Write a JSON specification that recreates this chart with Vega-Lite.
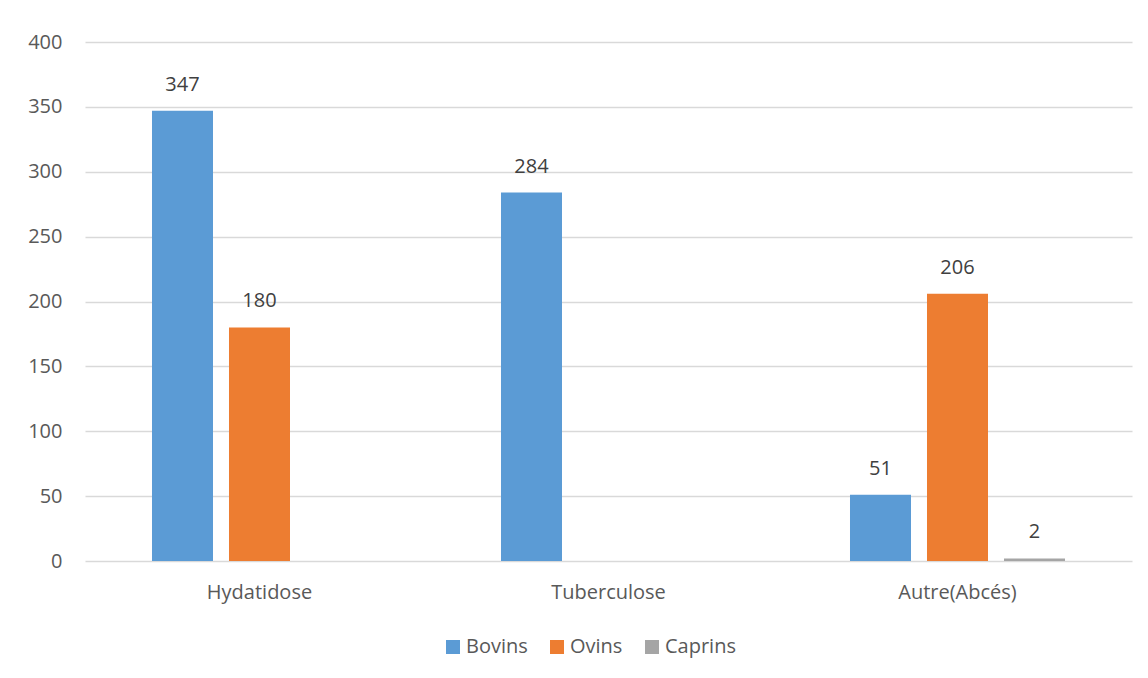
{
  "$schema": "https://vega.github.io/schema/vega-lite/v6.json",
  "width": 1047,
  "height": 519,
  "autosize": {"type": "none"},
  "padding": {"left": 85, "top": 42, "right": 16, "bottom": 117},
  "background": "#ffffff",
  "config": {
    "font": "Open Sans",
    "view": {"stroke": null},
    "axis": {"labelColor": "#595959", "labelFontSize": 20, "ticks": false, "domain": false}
  },
  "data": {
    "values": [
      {"lesion": "Hydatidose", "espece": "Bovins", "nombre": 347},
      {"lesion": "Hydatidose", "espece": "Ovins", "nombre": 180},
      {"lesion": "Tuberculose", "espece": "Bovins", "nombre": 284},
      {"lesion": "Autre(Abcés)", "espece": "Bovins", "nombre": 51},
      {"lesion": "Autre(Abcés)", "espece": "Ovins", "nombre": 206},
      {"lesion": "Autre(Abcés)", "espece": "Caprins", "nombre": 2}
    ]
  },
  "encoding": {
    "x": {
      "field": "lesion",
      "type": "nominal",
      "sort": ["Hydatidose", "Tuberculose", "Autre(Abcés)"],
      "scale": {"paddingInner": 0, "paddingOuter": 0},
      "axis": {"title": null, "labelAngle": 0, "labelPadding": 21}
    },
    "xOffset": {
      "field": "espece",
      "type": "nominal",
      "scale": {"domain": ["Bovins", "Ovins", "Caprins"], "paddingInner": 0.2078, "paddingOuter": 0.87}
    },
    "y": {
      "field": "nombre",
      "type": "quantitative",
      "scale": {"domain": [0, 400], "nice": false},
      "axis": {
        "title": null,
        "values": [0, 50, 100, 150, 200, 250, 300, 350, 400],
        "labelPadding": 23,
        "grid": true,
        "gridColor": "#D9D9D9",
        "gridWidth": 1.5
      }
    }
  },
  "layer": [
    {
      "mark": {"type": "bar"},
      "encoding": {
        "color": {
          "field": "espece",
          "type": "nominal",
          "scale": {"domain": ["Bovins", "Ovins", "Caprins"], "range": ["#5B9BD5", "#ED7D31", "#A5A5A5"]},
          "legend": {
            "title": null,
            "orient": "none",
            "direction": "horizontal",
            "legendX": 358,
            "legendY": 595,
            "symbolType": "square",
            "symbolSize": 196,
            "symbolStrokeWidth": 0,
            "labelFontSize": 20,
            "labelColor": "#595959",
            "labelOffset": 3,
            "columnPadding": 19
          }
        }
      }
    },
    {
      "mark": {"type": "text", "baseline": "alphabetic", "dy": -20, "fontSize": 20, "color": "#404040"},
      "encoding": {"text": {"field": "nombre", "type": "quantitative"}}
    }
  ]
}
